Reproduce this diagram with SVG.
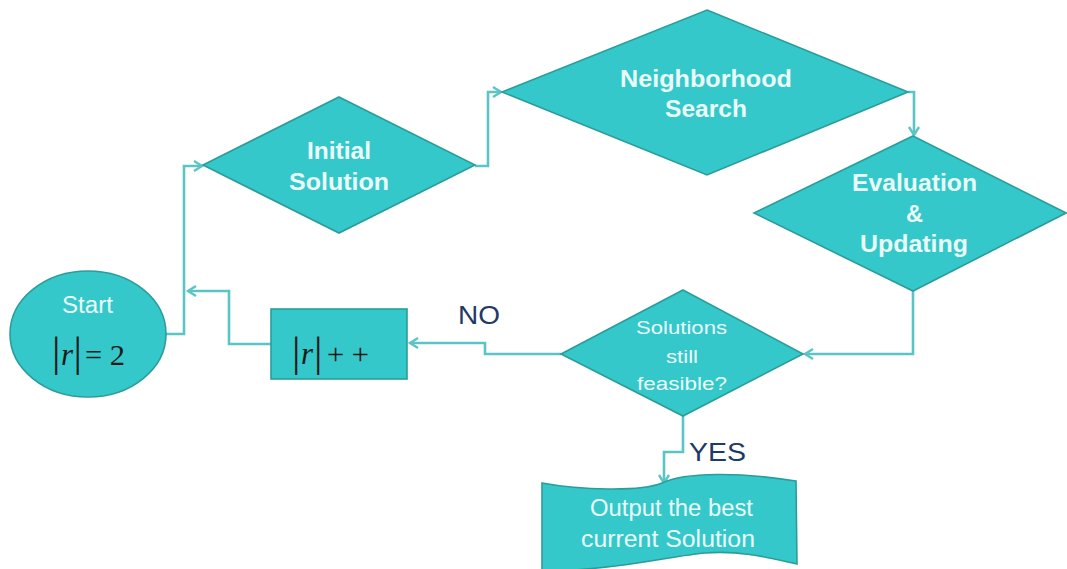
<svg xmlns="http://www.w3.org/2000/svg" width="1067" height="569" viewBox="0 0 1067 569">
<defs>
<style>
.shape{fill:#34C8CA;stroke:#2A9D9B;stroke-width:1.6}
.conn{fill:none;stroke:#5BC5C5;stroke-width:2.6;stroke-linejoin:miter}
.bt{font-family:"Liberation Sans",Arial,sans-serif;font-weight:bold;font-size:23px;fill:#EAFBFA}
.rt{font-family:"Liberation Sans",Arial,sans-serif;font-size:23px;fill:#EAFBFA}
.st{font-family:"Liberation Sans",Arial,sans-serif;font-size:19px;fill:#EAFBFA}
.lab{font-family:"Liberation Sans",Arial,sans-serif;font-size:25px;fill:#1E3A66}
.bar{font-family:"Liberation Serif","Times New Roman",serif;font-size:42px;fill:#1a1a1a}
.mi{font-family:"Liberation Serif","Times New Roman",serif;font-size:32px;font-style:italic;fill:#1a1a1a}
.mo{font-family:"Liberation Serif","Times New Roman",serif;font-size:29px;fill:#1a1a1a}
</style>
<marker id="arr" markerUnits="userSpaceOnUse" markerWidth="14" markerHeight="14" refX="10" refY="6" orient="auto" viewBox="0 0 14 12">
<path d="M2,1 L10,6 L2,11" fill="none" stroke="#5BC5C5" stroke-width="2.4"/>
</marker>
</defs>
<rect width="1067" height="569" fill="#ffffff"/>

<g id="connectors">
<path class="conn" d="M166,334 H184 V166 H202" marker-end="url(#arr)"/>
<path class="conn" d="M475,166 H488 V92 H501" marker-end="url(#arr)"/>
<path class="conn" d="M908,92 H914 V135" marker-end="url(#arr)"/>
<path class="conn" d="M913,291 V354 H805" marker-end="url(#arr)"/>
<path class="conn" d="M561,354 H485 V343 H410" marker-end="url(#arr)"/>
<path class="conn" d="M271,344 H229 V291 H188" marker-end="url(#arr)"/>
<path class="conn" d="M683,416 V452 H664 V483" marker-end="url(#arr)"/>
</g>

<g id="start">
<ellipse class="shape" cx="88" cy="334" rx="78" ry="63"/>
<text class="rt" x="62" y="313" textLength="51" lengthAdjust="spacingAndGlyphs">Start</text>
<text class="bar" x="52" y="366">|</text>
<text class="mi" x="61" y="365" textLength="12" lengthAdjust="spacingAndGlyphs">r</text>
<text class="bar" x="73.5" y="366">|</text>
<text class="mo" x="85" y="365" textLength="40" lengthAdjust="spacingAndGlyphs">= 2</text>
</g>

<g id="initial">
<polygon class="shape" points="339,97 475,165 339,233 203,165"/>
<text class="bt" x="307" y="159" textLength="64" lengthAdjust="spacingAndGlyphs">Initial</text>
<text class="bt" x="289" y="190" textLength="100" lengthAdjust="spacingAndGlyphs">Solution</text>
</g>

<g id="neighborhood">
<polygon class="shape" points="707,10 908,92 707,175 502,92"/>
<text class="bt" x="620" y="87" textLength="172" lengthAdjust="spacingAndGlyphs">Neighborhood</text>
<text class="bt" x="665" y="117" textLength="82" lengthAdjust="spacingAndGlyphs">Search</text>
</g>

<g id="evaluation">
<polygon class="shape" points="913,136 1066,213 913,291 754,213"/>
<text class="bt" x="852" y="191" textLength="125" lengthAdjust="spacingAndGlyphs">Evaluation</text>
<text class="bt" x="906" y="222" textLength="17" lengthAdjust="spacingAndGlyphs">&amp;</text>
<text class="bt" x="860" y="252" textLength="108" lengthAdjust="spacingAndGlyphs">Updating</text>
</g>

<g id="feasible">
<polygon class="shape" points="683,290 803,354 683,416 561,354"/>
<text class="st" x="636" y="334" textLength="91" lengthAdjust="spacingAndGlyphs">Solutions</text>
<text class="st" x="666" y="363" textLength="32" lengthAdjust="spacingAndGlyphs">still</text>
<text class="st" x="637" y="390" textLength="90" lengthAdjust="spacingAndGlyphs">feasible?</text>
</g>

<g id="increment">
<rect class="shape" x="271" y="309" width="136" height="70"/>
<text class="bar" x="292" y="366">|</text>
<text class="mi" x="301" y="364" textLength="12" lengthAdjust="spacingAndGlyphs">r</text>
<text class="bar" x="314" y="366">|</text>
<text class="mo" x="327" y="364" textLength="42" lengthAdjust="spacingAndGlyphs">+ +</text>
</g>

<g id="output">
<path class="shape" d="M542,483 C580,490 640,492 662,483 C685,472 740,472 796,481 L797,564 C770,558 740,550 705,553 C670,556 630,568 542,572 Z"/>
<text class="rt" x="590" y="516" textLength="163" lengthAdjust="spacingAndGlyphs">Output the best</text>
<text class="rt" x="581" y="547" textLength="174" lengthAdjust="spacingAndGlyphs">current Solution</text>
</g>

<g id="labels">
<text class="lab" x="458" y="324" textLength="42" lengthAdjust="spacingAndGlyphs">NO</text>
<text class="lab" x="689" y="461" textLength="57" lengthAdjust="spacingAndGlyphs">YES</text>
</g>
</svg>
